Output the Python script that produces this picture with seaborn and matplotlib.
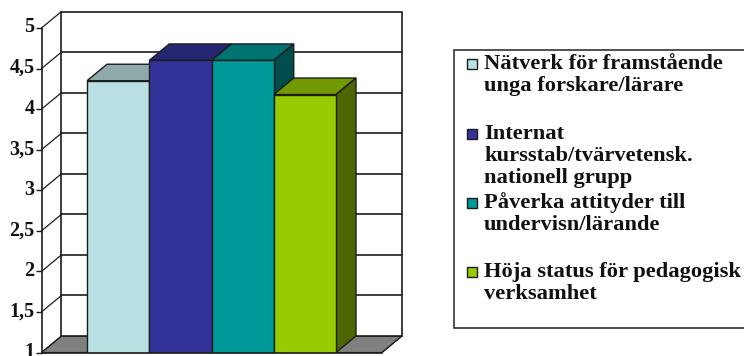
import matplotlib
matplotlib.use("Agg")
import matplotlib.pyplot as plt
from matplotlib.patches import Polygon, Rectangle
from matplotlib.transforms import ScaledTranslation
import pandas as pd
import seaborn as sns

categories = ["Nätverk för framstående\nunga forskare/lärare",
              "Internat\nkursstab/tvärvetensk.\nnationell grupp",
              "Påverka attityder till\nundervisn/lärande",
              "Höja status för pedagogisk\nverksamhet"]
values = [4.35, 4.60, 4.60, 4.18]
front_colors = ["#B9E0E3", "#333399", "#009999", "#99CC00"]
top_colors = ["#8FA9AB", "#262673", "#007373", "#739900"]
side_colors = ["#5D7072", "#1A1A4D", "#004D4D", "#4D6600"]
tick_values = [1, 1.5, 2, 2.5, 3, 3.5, 4, 4.5, 5]
tick_labels = ["1", "1,5", "2", "2,5", "3", "3,5", "4", "4,5", "5"]
legend_text_tops = [54, 124, 192, 262]
legend_swatch_tops = [59, 129, 198, 267]

W, H = 744, 356
sns.set_style("white")
plt.rcParams["font.family"] = ["Liberation Serif", "DejaVu Serif"]
LINE = "#1c1c1c"

fig = plt.figure(figsize=(W / 100, H / 100), dpi=100, facecolor="white")
ax = fig.add_axes([41.5 / W, (H - 352.5) / H, 340.5 / W, 324.5 / H])
df = pd.DataFrame({"cat": categories, "val": values})
sns.barplot(data=df, x="cat", y="val", hue="cat", order=categories, hue_order=categories,
            palette=front_colors, saturation=1, dodge=False, width=1.0, legend=False,
            edgecolor=LINE, linewidth=1.0, ax=ax)
ax.set_xlim(-1.231, 4.239)
ax.set_ylim(1, 5)
ax.set_xlabel("")
ax.set_ylabel("")
ax.set_xticks([])
ax.set_yticks(tick_values)
ax.set_yticklabels(tick_labels, fontsize=14.5, fontweight="bold", color="#111111")
ax.tick_params(axis="y", left=True, length=4, width=1, color=LINE, pad=1)
shift = ScaledTranslation(0, 3 / 100, fig.dpi_scale_trans)
for lab in ax.get_yticklabels():
    lab.set_transform(lab.get_transform() + shift)
ax.patch.set_alpha(0)
for s in ["top", "right"]:
    ax.spines[s].set_visible(False)
for s in ["left", "bottom"]:
    ax.spines[s].set_color(LINE)
    ax.spines[s].set_linewidth(1.2)
    ax.spines[s].set_zorder(8)

# depth of the 3D box, in data units
x0, x1 = ax.get_xlim()
ux = 340.5 / (x1 - x0)
uy = 324.5 / 4
ddx, ddy = 20 / ux, 16.5 / uy

# floor, back wall, grid
ax.add_patch(Polygon([(x0, 1), (x1, 1), (x1 + ddx, 1 + ddy), (x0 + ddx, 1 + ddy)],
                     facecolor="#808080", edgecolor=LINE, lw=0.8, clip_on=False, zorder=0.5))
ax.add_patch(Rectangle((x0 + ddx, 1 + ddy), x1 - x0, 4, facecolor="white",
                       edgecolor=LINE, lw=1.2, clip_on=False, zorder=0.6))
for t in tick_values:
    ax.plot([x0, x0 + ddx], [t, t + ddy], color=LINE, lw=0.9, clip_on=False, zorder=0.8)
    if 1 < t < 5:
        ax.plot([x0 + ddx, x1 + ddx], [t + ddy, t + ddy], color=LINE, lw=1.2, clip_on=False, zorder=0.8)
ax.plot([x1, x1 + ddx], [1, 1 + ddy], color=LINE, lw=0.9, clip_on=False, zorder=0.8)

# bar depth faces
for i, (p, tc, sc) in enumerate(zip(ax.patches, top_colors, side_colors)):
    bx, bw, bh = p.get_x(), p.get_width(), p.get_height()
    base = 2 + i
    ax.add_patch(Polygon([(bx, bh), (bx + bw, bh), (bx + bw + ddx, bh + ddy), (bx + ddx, bh + ddy)],
                         facecolor=tc, edgecolor=LINE, lw=1.0, clip_on=False, zorder=base))
    ax.add_patch(Polygon([(bx + bw, 1), (bx + bw + ddx, 1 + ddy), (bx + bw + ddx, bh + ddy), (bx + bw, bh)],
                         facecolor=sc, edgecolor=LINE, lw=1.0, clip_on=False, zorder=base + 0.1))
    p.set_zorder(base + 0.2)

# legend box drawn in figure pixels
def fx(px):
    return px / W
def fy(py):
    return (H - py) / H

fig.add_artist(Rectangle((fx(454), fy(328)), 300 / W, 278 / H, transform=fig.transFigure,
                         facecolor="white", edgecolor="#333333", lw=1.2))
for label, color, ttop, stop in zip(categories, front_colors, legend_text_tops, legend_swatch_tops):
    fig.add_artist(Rectangle((fx(467), fy(stop + 10)), 10 / W, 10 / H, transform=fig.transFigure,
                             facecolor=color, edgecolor=LINE, lw=1.0))
    fig.text(fx(484), fy(ttop), label, fontsize=16.2, fontweight="bold", color="#111111",
             va="top", ha="left", linespacing=1.15)

fig.savefig("out.png", dpi=100, facecolor="white")
